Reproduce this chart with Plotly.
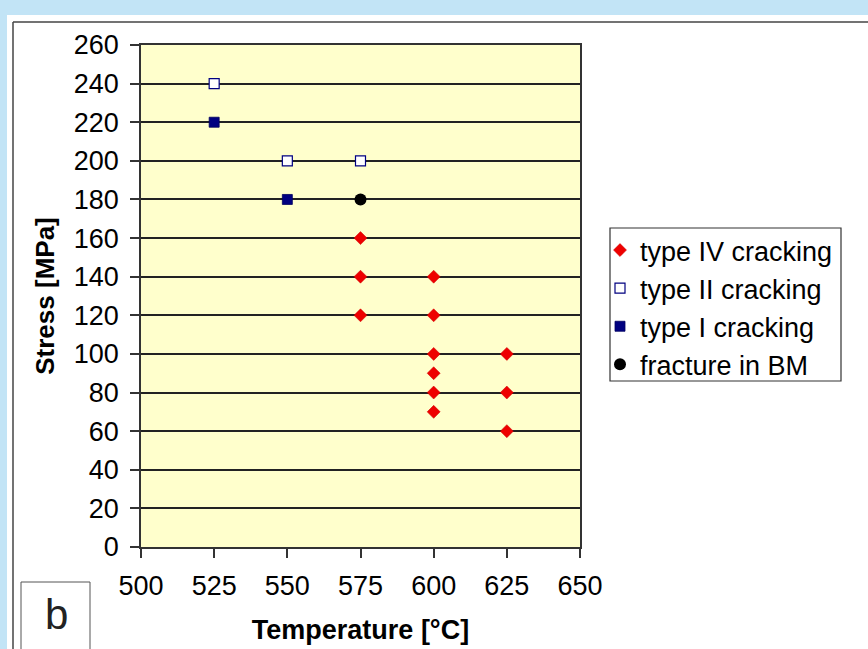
import plotly.graph_objects as go

# Creep rupture results: temperature [°C] vs. stress [MPa]
type4_temp = [575, 575, 575, 600, 600, 600, 600, 600, 600, 625, 625, 625]
type4_stress = [160, 140, 120, 140, 120, 100, 90, 80, 70, 100, 80, 60]

type2_temp = [525, 550, 575]
type2_stress = [240, 200, 200]

type1_temp = [525, 550]
type1_stress = [220, 180]

bm_temp = [575]
bm_stress = [180]

x_ticks = [500, 525, 550, 575, 600, 625, 650]
y_ticks = list(range(0, 261, 20))

W, H = 868, 649
L, R, T, B = 141, 580, 45, 547  # plot area edges in pixels


def px(x):
    return (x - L) / (R - L)


def py(y):
    return (B - y) / (B - T)


FONT = "Liberation Sans, Arial, sans-serif"

fig = go.Figure()
fig.add_trace(go.Scatter(
    x=type4_temp, y=type4_stress, mode="markers", name="type IV cracking",
    legendgroup="g1",
    marker=dict(symbol="diamond", size=10, color="#EE0000",
                line=dict(color="#CC0000", width=0.5))))
fig.add_trace(go.Scatter(
    x=type2_temp, y=type2_stress, mode="markers", name="type II cracking",
    legendgroup="g2",
    marker=dict(symbol="square", size=10, color="white",
                line=dict(color="#000080", width=1.2))))
fig.add_trace(go.Scatter(
    x=type1_temp, y=type1_stress, mode="markers", name="type I cracking",
    legendgroup="g3",
    marker=dict(symbol="square", size=10, color="#000080",
                line=dict(color="#000060", width=0.8))))
fig.add_trace(go.Scatter(
    x=bm_temp, y=bm_stress, mode="markers", name="fracture in BM",
    legendgroup="g4",
    marker=dict(symbol="circle", size=12, color="black")))

shapes = [
    # light blue page strips
    dict(type="rect", xref="paper", yref="paper", x0=px(0), x1=px(W), y0=py(0), y1=py(15),
         fillcolor="#C2E4F6", line=dict(width=0), layer="below"),
    dict(type="rect", xref="paper", yref="paper", x0=px(0), x1=px(7), y0=py(0), y1=py(H),
         fillcolor="#C2E4F6", line=dict(width=0), layer="below"),
    # chart frame
    dict(type="line", xref="paper", yref="paper", x0=px(13), x1=px(W), y0=py(22), y1=py(22),
         line=dict(color="#444444", width=1.5)),
    dict(type="line", xref="paper", yref="paper", x0=px(13), x1=px(13), y0=py(22), y1=py(H),
         line=dict(color="#444444", width=1.5)),
    # panel label box
    dict(type="rect", xref="paper", yref="paper", x0=px(21), x1=px(90), y0=py(582), y1=py(H + 5),
         fillcolor="white", line=dict(color="#555555", width=1)),
    # legend frame
    dict(type="rect", xref="paper", yref="paper", x0=px(610), x1=px(841), y0=py(228), y1=py(381),
         fillcolor="white", line=dict(color="#333333", width=1.2), layer="below"),
]

fig.update_layout(
    width=W, height=H,
    margin=dict(l=L, r=W - R, t=T, b=H - B, pad=0, autoexpand=False),
    paper_bgcolor="white",
    plot_bgcolor="#FFFFCC",
    font=dict(family=FONT, size=27, color="black"),
    showlegend=True,
    legend=dict(
        x=px(600), y=py(226), xanchor="left", yanchor="top",
        bgcolor="rgba(0,0,0,0)", borderwidth=0,
        font=dict(family=FONT, size=27, color="black"),
        tracegroupgap=0, itemwidth=30,
    ),
    shapes=shapes,
    annotations=[
        dict(text="b", xref="paper", yref="paper", x=px(56), y=py(615),
             xanchor="center", yanchor="middle",
             showarrow=False, font=dict(family=FONT, size=42, color="#222222")),
    ],
)

fig.update_xaxes(
    range=[500, 650], tickvals=x_ticks, ticktext=[str(v) for v in x_ticks],
    showgrid=False, zeroline=False, automargin=False,
    showline=True, linecolor="#333333", linewidth=1.5, mirror=True,
    ticks="outside", ticklen=9, tickcolor="#333333", tickwidth=1.5,
    ticklabelstandoff=5,
    title=dict(text="<b>Temperature [°C]</b>", font=dict(family=FONT, size=27), standoff=20),
)
fig.update_yaxes(
    range=[0, 260], tickvals=y_ticks, ticktext=[str(v) for v in y_ticks],
    showgrid=True, gridcolor="#222222", gridwidth=1.5, zeroline=False, automargin=False,
    showline=True, linecolor="#333333", linewidth=1.5, mirror=True,
    ticks="outside", ticklen=9, tickcolor="#333333", tickwidth=1.5,
    ticklabelstandoff=6,
    title=dict(text="<b>Stress [MPa]</b>", font=dict(family=FONT, size=26), standoff=12),
)

fig.write_html("out.html")
